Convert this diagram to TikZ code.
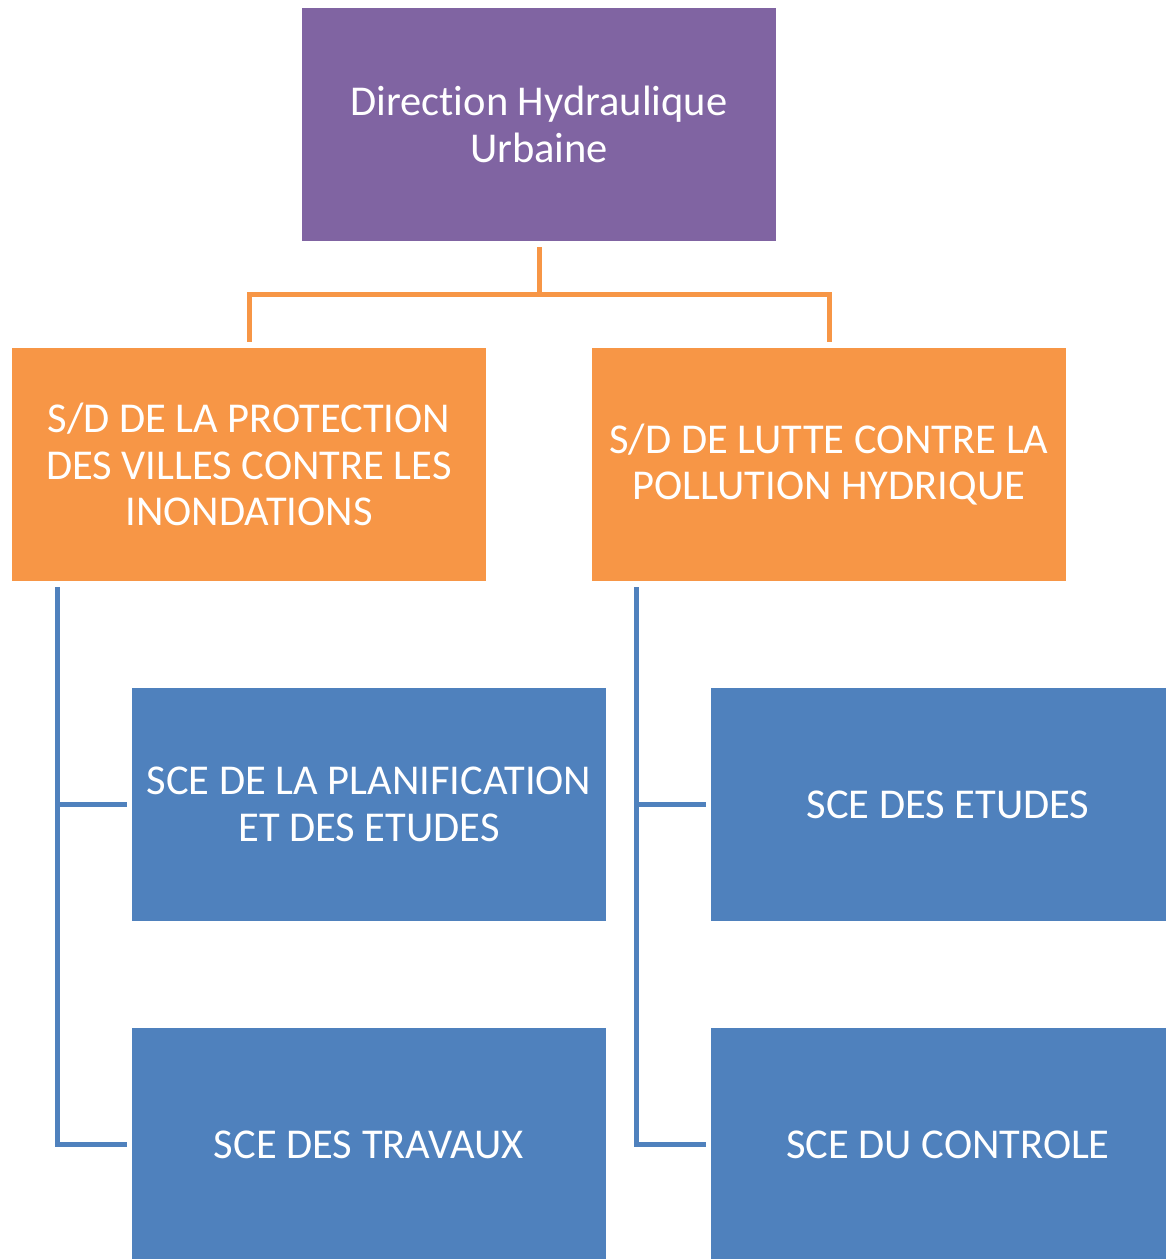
\documentclass[tikz,border=0pt]{standalone}
\usepackage{fontspec}
\setmainfont{Carlito}[Ligatures=NoCommon]
\definecolor{purp}{HTML}{8064A2}
\definecolor{orng}{HTML}{F79646}
\definecolor{blu}{HTML}{4F81BD}
\begin{document}
\begin{tikzpicture}[x=1pt,y=-1pt,
  box/.style={rectangle,minimum width=474pt,minimum height=233pt,inner sep=0pt,text=white,align=center,
    font=\fontsize{42.5}{46.5}\selectfont},
  orangeline/.style={draw=orng,line width=5pt},
  blueline/.style={draw=blu,line width=5pt}]
\useasboundingbox (0,0) rectangle (1166,1259);
\begin{scope}
\clip (0,0) rectangle (1166,1259);
\node[box,fill=purp] (top) at (539,124.5) {Direction Hydraulique\\Urbaine};
\node[box,fill=orng] (o1) at (249,464.5) {S/D DE LA PROTECTION\\DES VILLES CONTRE LES\\INONDATIONS};
\node[box,fill=orng] (o2) at (829,464.5) {S/D DE LUTTE CONTRE LA\\POLLUTION HYDRIQUE};
\node[box,fill=blu] (b1) at (369,804.5) {SCE DE LA PLANIFICATION\\ET DES ETUDES};
\node[box,fill=blu] (b2) at (369,1144.5) {SCE DES TRAVAUX};
\node[box,fill=blu] (b3) at (948,804.5) {SCE DES ETUDES};
\node[box,fill=blu] (b4) at (948,1144.5) {SCE DU CONTROLE};
\end{scope}
\coordinate (j) at ([yshift=-53pt]top.south);
\draw[orangeline] ([yshift=-6pt]top.south) -- (j);
\draw[orangeline] (j) -| ([yshift=6pt]o1.north);
\draw[orangeline] (j) -| ([yshift=6pt]o2.north);
\coordinate (v1) at ([xshift=46pt,yshift=-6pt]o1.south west);
\coordinate (v2) at ([xshift=45pt,yshift=-6pt]o2.south west);
\draw[blueline] (v1) |- ([xshift=-5pt]b2.west);
\draw[blueline] ([xshift=-5pt]b1.west) -- (b1.west -| v1);
\draw[blueline] (v2) |- ([xshift=-5pt]b4.west);
\draw[blueline] ([xshift=-5pt]b3.west) -- (b3.west -| v2);
\end{tikzpicture}
\end{document}
